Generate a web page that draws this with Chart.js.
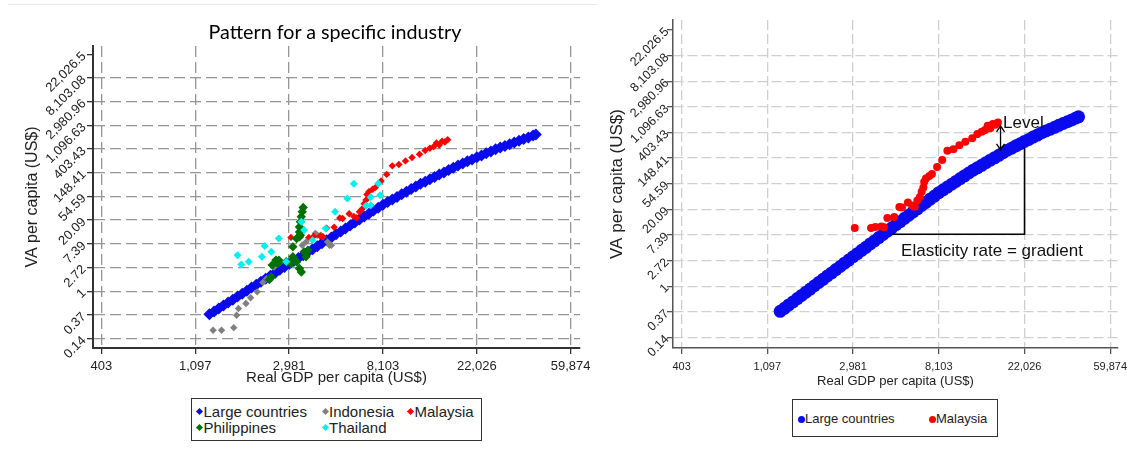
<!DOCTYPE html>
<html>
<head>
<meta charset="utf-8">
<script src="https://cdn.jsdelivr.net/npm/chart.js@4.4.0/dist/chart.umd.min.js"></script>
<style>
  body { margin: 0; background: #fff; width: 1128px; height: 462px; overflow: hidden; position: relative; font-family: "Liberation Sans", Arial, sans-serif; }
  .pane { position: absolute; top: 0; height: 395px; }
  #leftFrame { position: absolute; left: 8px; top: 4px; width: 589px; height: 470px; border-top: 1px solid #e4e9ef; }
  #leftTitle { position: absolute; left: 135px; top: 20px; width: 400px; text-align: center; font-family: Lato, "Open Sans", sans-serif; font-size: 19.7px; line-height: 24px; color: #000; }
  .legend { position: absolute; border: 1.5px solid #333; background: #fff; color: #222; }
  .legend span { position: absolute; white-space: nowrap; }
  .legend i { position: absolute; display: block; }
</style>
</head>
<body>
<div id="leftFrame"></div>
<div class="pane" style="left:0;width:600px"><canvas id="leftChart"></canvas></div>
<div class="pane" style="left:600px;width:528px"><canvas id="rightChart"></canvas></div>
<div id="leftTitle">Pattern for a specific industry</div>
<div id="leftLegend" class="legend" style="left:191px;top:398px;width:289px;height:41px;font-size:15px"></div>
<div id="rightLegend" class="legend" style="left:792px;top:399px;width:204px;height:36px;font-size:13px"></div>
<script>
var FONT = '"Liberation Sans", Arial, sans-serif';

// axes are log values, labelled with exp(tick)
var gdpTicks = [6, 7, 8, 9, 10, 11];
var gdpTickLabels = ['403', '1,097', '2,981', '8,103', '22,026', '59,874'];
var vaTicks = [-2, -1, 0, 1, 2, 3, 4, 5, 6, 7, 8, 9, 10];
var vaTickLabels = ['0.14', '0.37', '1', '2.72', '7.39', '20.09', '54.59', '148.41', '403.43', '1,096.63', '2,980.96', '8,103.08', '22,026.5'];

var largeLnGdp = [7.15, 7.20, 7.25, 7.30, 7.35, 7.40, 7.45, 7.50, 7.55, 7.60, 7.65, 7.70, 7.75, 7.80, 7.85, 7.90, 7.95, 8.00, 8.05, 8.10,
  8.15, 8.20, 8.25, 8.30, 8.35, 8.40, 8.45, 8.50, 8.55, 8.60, 8.65, 8.70, 8.75, 8.80, 8.85, 8.90, 8.95, 9.00, 9.05, 9.10,
  9.15, 9.20, 9.25, 9.30, 9.35, 9.40, 9.45, 9.50, 9.55, 9.60, 9.65, 9.70, 9.75, 9.80, 9.85, 9.90, 9.95, 10.00, 10.05, 10.10,
  10.15, 10.20, 10.25, 10.30, 10.35, 10.40, 10.45, 10.50, 10.55, 10.60, 10.63];
var largeLnVa = [-0.98, -0.86, -0.73, -0.61, -0.48, -0.36, -0.23, -0.11, 0.02, 0.15, 0.27, 0.40, 0.52, 0.65, 0.77, 0.90, 1.02, 1.15, 1.27, 1.40,
  1.52, 1.65, 1.77, 1.90, 2.02, 2.15, 2.27, 2.40, 2.52, 2.65, 2.77, 2.90, 3.02, 3.15, 3.27, 3.40, 3.52, 3.65, 3.76, 3.87,
  3.98, 4.09, 4.20, 4.31, 4.42, 4.53, 4.62, 4.72, 4.82, 4.92, 5.01, 5.11, 5.21, 5.31, 5.39, 5.48, 5.56, 5.65, 5.73, 5.82,
  5.90, 5.99, 6.06, 6.13, 6.20, 6.28, 6.35, 6.42, 6.49, 6.57, 6.61];

var malaysiaLnGdp = [8.02, 8.21, 8.26, 8.33, 8.36, 8.40, 8.48, 8.54, 8.57, 8.64, 8.69, 8.72, 8.75, 8.78, 8.80, 8.82, 8.83, 8.85,
  8.89, 8.92, 8.98, 9.04, 9.10, 9.17, 9.24, 9.31, 9.39, 9.45, 9.50, 9.54, 9.57, 9.60, 9.63, 9.66, 9.69];
var malaysiaLnVa = [2.27, 2.27, 2.31, 2.33, 2.30, 2.66, 2.70, 3.09, 3.07, 3.27, 3.15, 3.10, 3.35, 3.48, 3.69, 3.85, 4.08, 4.20,
  4.30, 4.38, 4.65, 4.93, 5.29, 5.35, 5.50, 5.64, 5.78, 5.94, 6.03, 6.10, 6.26, 6.17, 6.33, 6.30, 6.39];

var indonesiaLnGdp = [7.19, 7.28, 7.41, 7.44, 7.46, 7.54, 7.59, 7.66, 7.72, 7.76, 7.84, 7.90, 8.14, 8.18, 8.28, 8.30, 8.34, 8.36, 8.41, 8.43, 8.45];
var indonesiaLnVa = [-1.65, -1.65, -1.54, -1.02, -0.73, -0.52, -0.28, -0.03, 0.37, 0.53, 1.02, 1.20, 1.94, 2.08, 2.44, 2.36, 2.36, 2.29, 2.08, 1.94, 1.94];

var philippinesLnGdp = [7.79, 7.81, 7.82, 7.86, 7.88, 7.89, 7.97, 8.02, 8.04, 8.04, 8.08, 8.08, 8.11, 8.11, 8.11, 8.11, 8.12, 8.12, 8.13,
  8.13, 8.14, 8.15, 8.16, 8.18, 8.18, 8.20];
var philippinesLnVa = [0.49, 0.60, 1.10, 1.31, 1.17, 1.31, 1.24, 1.17, 1.45, 1.87, 1.24, 2.22, 0.96, 2.29, 2.50, 2.71, 2.36, 2.93, 0.81,
  3.14, 3.35, 3.53, 1.66, 1.45, 1.59, 1.73];

var thailandLnGdp = [7.45, 7.49, 7.57, 7.71, 7.74, 7.81, 7.89, 7.97, 8.13, 8.16, 8.25, 8.39, 8.49, 8.62, 8.69, 8.82, 8.87, 8.87, 8.95, 8.97];
var thailandLnVa = [1.52, 1.13, 1.24, 1.45, 1.91, 1.66, 2.22, 1.24, 2.93, 2.58, 2.15, 2.65, 3.35, 3.91, 4.53, 3.61, 3.63, 3.98, 4.55, 4.05];

// notes on the right panel, in axis units
var triangleLnGdp = [8.45, 10.0];
var triangleLnVa = [2.03, 5.41];
var levelArrowLnGdp = 9.72;
var levelArrowLnVa = [6.26, 5.32];
var levelLabelAt = [9.75, 6.37];
var elasticityLabelAt = [8.56, 1.35];

var leftLabels = ['Large countries', 'Indonesia', 'Malaysia', 'Philippines', 'Thailand'];
var leftColors = ['#0a0aef', '#808080', '#ff0000', '#007000', '#00f0f0'];
var rightLabels = ['Large countries', 'Malaysia'];
var rightColors = ['#0a0aef', '#ff0000'];

function toPoints (xs, ys) {
  var pts = [];
  for (let i = 0; i < xs.length; i++) {
    pts.push({x: xs[i], y: ys[i]});
  }
  return pts;
}

function scatterSet (label, xs, ys, color, style, radius, order) {
  return {
    label: label,
    data: toPoints(xs, ys),
    pointStyle: style,
    pointRadius: radius,
    pointBackgroundColor: color,
    pointBorderColor: color,
    pointBorderWidth: 0,
    order: order
  };
}

function buildScales (s) {
  return {
    x: {
      type: 'linear',
      min: s.xMin,
      max: s.xMax,
      afterBuildTicks: function (axis) {
        axis.ticks = gdpTicks.map(function (v) { return {value: v}; });
      },
      afterFit: function (axis) {
        axis.height = s.xHeight;
        axis.paddingLeft = 0;
        axis.paddingRight = 0;
      },
      ticks: {
        autoSkip: false, minRotation: 0, maxRotation: 0, padding: s.xTickPad, color: '#222',
        font: {family: FONT, size: s.xTickSize},
        callback: function (v) { return gdpTickLabels[gdpTicks.indexOf(v)]; }
      },
      grid: { color: s.gridColor, lineWidth: 1.3, tickLength: 6, tickColor: s.axisColor, tickWidth: 1.3, tickBorderDash: [] },
      border: { color: s.axisColor, width: s.axisWidth, dash: s.dash },
      title: {
        display: true, text: 'Real GDP per capita (US$)', color: '#222',
        font: {family: FONT, size: s.xTitleSize}, padding: {top: 0, bottom: s.xTitlePad}
      }
    },
    y: {
      type: 'linear',
      min: s.yMin,
      max: s.yMax,
      afterBuildTicks: function (axis) {
        axis.ticks = vaTicks.map(function (v) { return {value: v}; });
      },
      afterFit: function (axis) {
        axis.width = s.yWidth;
        axis.paddingTop = 0;
        axis.paddingBottom = 0;
      },
      ticks: {
        autoSkip: false, minRotation: 45, maxRotation: 45, padding: s.yTickPad, color: '#222',
        font: {family: FONT, size: s.yTickSize},
        callback: function (v) { return vaTickLabels[vaTicks.indexOf(v)]; }
      },
      grid: {
        color: function (c) { return c.tick && c.tick.value === 10 ? 'rgba(0,0,0,0)' : s.gridColor; },
        lineWidth: 1.3, tickLength: 6, tickColor: s.axisColor, tickWidth: 1.3, tickBorderDash: []
      },
      border: { color: s.axisColor, width: s.axisWidth, dash: s.dash },
      title: {
        display: true, text: 'VA per capita (US$)', color: '#222',
        font: {family: FONT, size: s.yTitleSize}, padding: {top: s.yTitlePad, bottom: 0}
      }
    }
  };
}

var notesPlugin = {
  id: 'notes',
  afterDatasetsDraw: function (chart) {
    const ctx = chart.ctx;
    const sx = chart.scales.x;
    const sy = chart.scales.y;
    ctx.save();
    ctx.strokeStyle = '#000';
    ctx.lineWidth = 1.6;
    // gradient triangle
    ctx.beginPath();
    ctx.moveTo(sx.getPixelForValue(triangleLnGdp[0]), sy.getPixelForValue(triangleLnVa[0]));
    ctx.lineTo(sx.getPixelForValue(triangleLnGdp[1]), sy.getPixelForValue(triangleLnVa[0]));
    ctx.lineTo(sx.getPixelForValue(triangleLnGdp[1]), sy.getPixelForValue(triangleLnVa[1]));
    ctx.stroke();
    // level arrow
    const ax = sx.getPixelForValue(levelArrowLnGdp);
    const top = sy.getPixelForValue(levelArrowLnVa[0]);
    const bottom = sy.getPixelForValue(levelArrowLnVa[1]);
    ctx.lineWidth = 1.3;
    ctx.beginPath();
    ctx.moveTo(ax, top);
    ctx.lineTo(ax, bottom);
    ctx.moveTo(ax - 4, top + 6);
    ctx.lineTo(ax, top);
    ctx.lineTo(ax + 4, top + 6);
    ctx.moveTo(ax - 4, bottom - 6);
    ctx.lineTo(ax, bottom);
    ctx.lineTo(ax + 4, bottom - 6);
    ctx.stroke();
    ctx.fillStyle = '#111';
    ctx.font = '17px ' + FONT;
    ctx.textBaseline = 'middle';
    ctx.textAlign = 'left';
    ctx.fillText('Level', sx.getPixelForValue(levelLabelAt[0]), sy.getPixelForValue(levelLabelAt[1]));
    ctx.fillText('Elasticity rate = gradient', sx.getPixelForValue(elasticityLabelAt[0]), sy.getPixelForValue(elasticityLabelAt[1]));
    ctx.restore();
  }
};

var leftChart = new Chart(document.getElementById('leftChart').getContext('2d'), {
  type: 'scatter',
  data: {
    datasets: [
      scatterSet(leftLabels[0], largeLnGdp, largeLnVa, leftColors[0], 'rectRot', 6, 5),
      scatterSet(leftLabels[1], indonesiaLnGdp, indonesiaLnVa, leftColors[1], 'rectRot', 3.7, 4),
      scatterSet(leftLabels[2], malaysiaLnGdp, malaysiaLnVa, leftColors[2], 'rectRot', 3.7, 3),
      scatterSet(leftLabels[3], philippinesLnGdp, philippinesLnVa, leftColors[3], 'rectRot', 4.7, 2),
      scatterSet(leftLabels[4], thailandLnGdp, thailandLnVa, leftColors[4], 'rectRot', 4, 1)
    ]
  },
  options: {
    responsive: true,
    maintainAspectRatio: false,
    animation: false,
    events: [],
    layout: { padding: {left: 0, right: 20, top: 46, bottom: 0} },
    plugins: { legend: {display: false}, tooltip: {enabled: false} },
    scales: buildScales({
      xMin: 5.91, xMax: 11.1, yMin: -2.4, yMax: 10.35, yWidth: 93, xHeight: 47,
      xTickSize: 13, yTickSize: 13, xTitleSize: 15, yTitleSize: 16,
      xTickPad: 5, yTickPad: 3, xTitlePad: 8, yTitlePad: 23,
      gridColor: '#959595', dash: [11, 5], axisColor: '#333', axisWidth: 2
    })
  }
});

var rightChart = new Chart(document.getElementById('rightChart').getContext('2d'), {
  type: 'scatter',
  data: {
    datasets: [
      scatterSet(rightLabels[0], largeLnGdp, largeLnVa, rightColors[0], 'circle', 6.5, 2),
      scatterSet(rightLabels[1], malaysiaLnGdp, malaysiaLnVa, rightColors[1], 'circle', 4, 1)
    ]
  },
  options: {
    responsive: true,
    maintainAspectRatio: false,
    animation: false,
    events: [],
    layout: { padding: {left: 0, right: 10, top: 20, bottom: 0} },
    plugins: { legend: {display: false}, tooltip: {enabled: false} },
    scales: buildScales({
      xMin: 5.90, xMax: 11.09, yMin: -2.41, yMax: 10.39, yWidth: 73, xHeight: 47,
      xTickSize: 11, yTickSize: 12.5, xTitleSize: 13, yTitleSize: 17,
      xTickPad: 6, yTickPad: 0, xTitlePad: 5.5, yTitlePad: 7,
      gridColor: '#cfcfcf', dash: [10, 4], axisColor: '#555', axisWidth: 1.5
    })
  },
  plugins: [notesPlugin]
});

function buildLegend (id, labels, colors, slots, shape, rowY) {
  const box = document.getElementById(id);
  var html = '';
  for (let i = 0; i < labels.length; i++) {
    const cx = slots[i][0];
    const cy = rowY[slots[i][1]];
    if (shape === 'diamond') {
      html += '<i style="left:' + (cx - 2.5) + 'px;top:' + (cy - 2.5) + 'px;width:5px;height:5px;transform:rotate(45deg);background:' + colors[i] + '"></i>';
    } else {
      html += '<i style="left:' + (cx - 3.5) + 'px;top:' + (cy - 3.5) + 'px;width:7px;height:7px;border-radius:50%;background:' + colors[i] + '"></i>';
    }
    html += '<span style="left:' + (cx + 4) + 'px;top:' + (cy - 9) + 'px;line-height:18px">' + labels[i] + '</span>';
  }
  box.innerHTML = html;
}

buildLegend('leftLegend', leftLabels, leftColors, [[7.5, 0], [133, 0], [218.5, 0], [7.5, 1], [133, 1]], 'diamond', [12.5, 28.5]);
buildLegend('rightLegend', rightLabels, rightColors, [[8, 0], [139, 0]], 'circle', [19]);
</script>
</body>
</html>
